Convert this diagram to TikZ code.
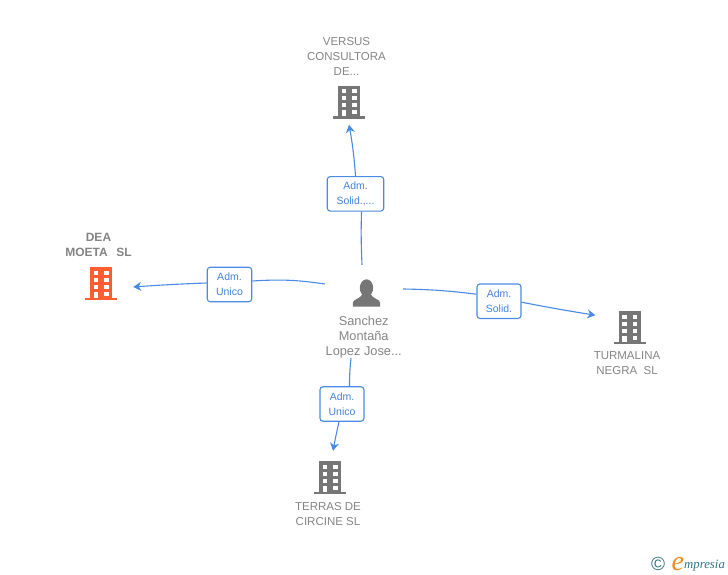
\documentclass[tikz,border=0pt]{standalone}
\usepackage{fontspec}
\setmainfont{Liberation Sans}
\newfontfamily\logofont{Liberation Serif}
\usetikzlibrary{arrows.meta}
\definecolor{linkblue}{HTML}{4A8AE4}
\definecolor{textblue}{HTML}{4482DC}
\definecolor{namegrey}{HTML}{848484}
\definecolor{icongrey}{HTML}{767676}
\definecolor{hotorange}{HTML}{FF5F2E}
\definecolor{logoteal}{HTML}{2F7387}
\definecolor{logoorange}{HTML}{F08A1D}
\tikzset{
  pics/building/.style={code={
    \fill[#1] (-11,-16.5) rectangle (11,14);
    \fill[#1] (-16,14) rectangle (16,16.5);
    \foreach \rowy in {-13,-6,1} {
      \fill[white] (-7.5,\rowy) rectangle (-3,\rowy+4);
      \fill[white] (3,\rowy) rectangle (7.5,\rowy+4);
    }
    \fill[white] (-7.5,8) rectangle (-3,14);
    \fill[white] (3,8) rectangle (7.5,12);
  }},
  pics/person/.style={code={
    \fill[icongrey] (0,-5) ellipse (6.7 and 8.7);
    \fill[icongrey] (-13.7,13.7) -- (-13.7,10) .. controls (-13.7,6) and (-6,6) .. (-4,1)
      -- (4,1) .. controls (6,6) and (13.7,6) .. (13.7,10) -- (13.7,13.7) -- cycle;
  }},
  iconbox/.style={minimum width=64pt,minimum height=44pt,inner sep=0pt},
  personbox/.style={minimum width=78pt,minimum height=56pt,inner sep=0pt},
  namelabel/.style={text=namegrey,font=\fontsize{11.5}{15}\selectfont,align=center,inner sep=0pt},
  rolebox/.style={draw=linkblue,line width=1.1pt,rounded corners=3pt,fill=white,text=textblue,
    font=\fontsize{10.5}{15}\selectfont,align=center,inner sep=0pt},
  link/.style={draw=linkblue,line width=1.1pt},
  linkarrow/.style={link,-{Stealth[length=8pt,width=9pt]}}
}
\begin{document}
\begin{tikzpicture}[x=1pt,y=-1pt]
\useasboundingbox (0,0) rectangle (728,575);

% company and person nodes
\node[iconbox] (versus) at (349,102.5) {};
\node[iconbox] (dea) at (101,283.5) {};
\node[iconbox] (turmalina) at (629.5,327.5) {};
\node[iconbox] (terras) at (330,477.5) {};
\node[personbox] (person) at (364,293) {};
\pic at (versus) {building=icongrey};
\pic at (dea) {building=hotorange};
\pic at (turmalina) {building=icongrey};
\pic at (terras) {building=icongrey};
\pic at (366.5,293) {person};

% names
\node[namelabel] (versusname) at (346.5,56.5) {VERSUS\\CONSULTORA\\DE...};
\node[namelabel,font=\fontsize{12}{15}\selectfont\bfseries] (deaname) at (98.5,245) {DEA\\MOETA\ \ \,SL};
\node[namelabel] (turmalinaname) at (627,363.5) {TURMALINA\\NEGRA\ \ SL};
\node[namelabel] (terrasname) at (328,514.5) {TERRAS DE\\CIRCINE SL};
\node[namelabel,font=\fontsize{12.8}{15}\selectfont] (personname) at (363.7,337) {Sanchez\\Montaña\\Lopez Jose...};

% roles
\node[rolebox,minimum width=56.5pt,minimum height=34.5pt] (admversus) at (355.5,193.8) {Adm.\\Solid.,...};
\node[rolebox,minimum width=44.5pt,minimum height=34.5pt] (admdea) at (229.5,284.5) {Adm.\\Unico};
\node[rolebox,minimum width=44pt,minimum height=34.5pt] (admturmalina) at (499,301.2) {Adm.\\Solid.};
\node[rolebox,minimum width=44pt,minimum height=34.5pt] (admterras) at (342,404) {Adm.\\Unico};

% links
\draw[link] ([xshift=-2pt]person.north) to[bend left=2] ([xshift=6pt]admversus.south);
\draw[linkarrow] (admversus.north) to[bend right=3] (versus.south);
\draw[link] (person.west |- 0,284) to[bend right=6] ([yshift=3.5pt]admdea.east);
\draw[linkarrow] ([yshift=1.5pt]admdea.west) to[bend right=1] (dea.east |- 0,287);
\draw[link] (person.east |- 0,289) to[bend left=3] ([yshift=7pt]admturmalina.west);
\draw[linkarrow,shorten >=2pt] ([yshift=-1pt]admturmalina.east) to[bend right=1] (turmalina.west |- 0,315.5);
\draw[link] ([xshift=-12.7pt]personname.south) to[bend right=3] ([xshift=7.5pt]admterras.north);
\draw[linkarrow] ([xshift=-3pt]admterras.south) to[bend right=1] ([xshift=3pt,yshift=4.5pt]terras.north);

% logo
\node[inner sep=0pt,text=logoteal,font=\fontsize{19}{19}\selectfont] (copyright) at (658,564) {©};
\node[inner sep=0pt,text=logoteal,font=\logofont\itshape\fontsize{12.8}{12.8}\selectfont,anchor=base west] (logoname) at (671.5,568)
  {\textcolor{logoorange}{\raisebox{-2pt}{\fontsize{28}{28}\selectfont e}}mpresia};
\end{tikzpicture}
\end{document}
